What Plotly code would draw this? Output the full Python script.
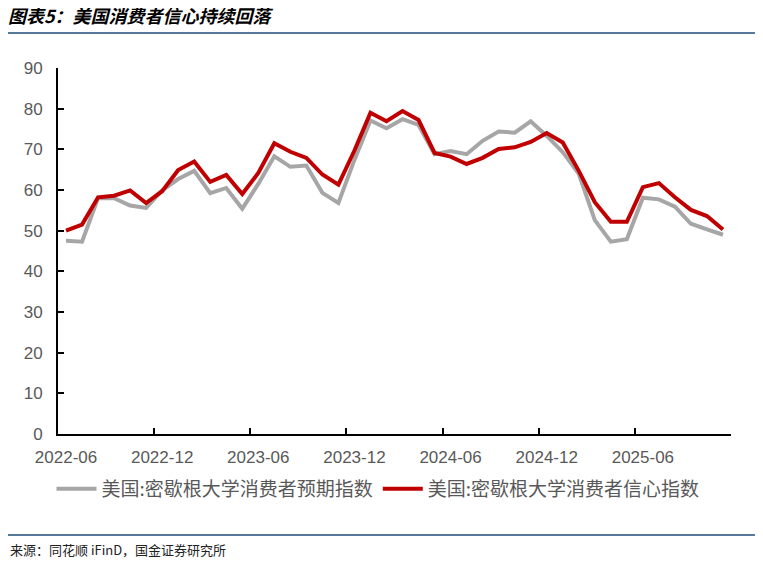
import plotly.graph_objects as go

months = [
    "2022-06", "2022-07", "2022-08", "2022-09", "2022-10", "2022-11", "2022-12",
    "2023-01", "2023-02", "2023-03", "2023-04", "2023-05", "2023-06", "2023-07",
    "2023-08", "2023-09", "2023-10", "2023-11", "2023-12", "2024-01", "2024-02",
    "2024-03", "2024-04", "2024-05", "2024-06", "2024-07", "2024-08", "2024-09",
    "2024-10", "2024-11", "2024-12", "2025-01", "2025-02", "2025-03", "2025-04",
    "2025-05", "2025-06", "2025-07", "2025-08", "2025-09", "2025-10", "2025-11",
]

expectations = [
    47.5, 47.3, 58.0, 58.0, 56.2, 55.6, 59.9, 62.7, 64.7, 59.2, 60.5, 55.4,
    61.5, 68.3, 65.7, 66.0, 59.3, 56.8, 67.4, 77.1, 75.2, 77.4, 76.0, 68.8,
    69.6, 68.8, 72.1, 74.4, 74.1, 76.9, 73.3, 69.3, 64.0, 52.6, 47.3, 47.9,
    58.1, 57.7, 55.9, 51.7, 50.3, 49.0,
]

sentiment = [
    50.0, 51.5, 58.2, 58.6, 59.9, 56.8, 59.7, 64.9, 67.0, 62.0, 63.7, 59.0,
    64.2, 71.5, 69.4, 67.9, 63.8, 61.3, 69.7, 79.0, 76.9, 79.4, 77.2, 69.1,
    68.2, 66.4, 67.9, 70.1, 70.5, 71.8, 74.0, 71.7, 64.7, 57.0, 52.2, 52.2,
    60.7, 61.7, 58.2, 55.1, 53.6, 50.3,
]

x_label_step = 6  # months between labels: 2022-06, 2022-12, ..., 2025-06
y_ticks = [0, 10, 20, 30, 40, 50, 60, 70, 80, 90]

name_exp = "美国:密歇根大学消费者预期指数"
name_sent = "美国:密歇根大学消费者信心指数"
title_text = "图表5：美国消费者信心持续回落"
source_text = "来源：同花顺 iFinD，国金证券研究所"

# page body adds an 8px offset; lay out in figure pixels = screen pixels - 8
OFF = 8
W, H = 763, 565
L, T = 58 - OFF, 68 - OFF
pw, ph = 673, 366
R, B = W - L - pw, H - T - ph

def px_x(p):
    return (p - OFF - L) / pw

def px_y(p):
    return (T + ph - (p - OFF)) / ph

fig = go.Figure()
fig.add_trace(go.Scatter(
    x=months, y=expectations, mode="lines", name=name_exp,
    line=dict(color="#A6A6A6", width=4),
))
fig.add_trace(go.Scatter(
    x=months, y=sentiment, mode="lines", name=name_sent,
    line=dict(color="#C00000", width=4),
))

font_main = "Liberation Sans, Noto Sans CJK SC, sans-serif"

fig.update_layout(
    width=W, height=H,
    margin=dict(l=L, r=R, t=T, b=B, autoexpand=False),
    paper_bgcolor="white", plot_bgcolor="white",
    font=dict(family=font_main, color="#595959", size=16),
    showlegend=True,
    legend=dict(
        orientation="h", x=px_x(378), y=px_y(489), xanchor="center", yanchor="middle",
        font=dict(family="Noto Sans CJK SC, sans-serif", size=19, color="#595959"),
        itemwidth=40, tracegroupgap=0, bgcolor="rgba(0,0,0,0)",
    ),
    title=dict(
        text="<b><i>" + title_text + "</i></b>",
        x=0, xanchor="left", xref="container",
        y=1 - 2 / H, yanchor="top", yref="container",
        pad=dict(l=0, r=0, t=0, b=0),
        font=dict(family="Noto Sans CJK SC, sans-serif", size=18, color="#000000"),
    ),
    xaxis=dict(
        type="category", automargin=False,
        categoryorder="array", categoryarray=months,
        range=[-0.5, len(months) - 0.5],
        tickmode="linear", tick0=0, dtick=x_label_step,
        tickson="boundaries", tickangle=0,
        ticks="inside", ticklen=6, tickwidth=2, tickcolor="#000000",
        showline=True, linecolor="#000000", linewidth=2,
        showgrid=False, zeroline=False,
        tickfont=dict(size=17, color="#595959"),
        ticklabelstandoff=7,
    ),
    yaxis=dict(
        range=[0, 90], automargin=False,
        tickmode="array", tickvals=y_ticks,
        ticks="inside", ticklen=6, tickwidth=2, tickcolor="#000000",
        showline=True, linecolor="#000000", linewidth=2,
        showgrid=False, zeroline=False,
        tickfont=dict(size=17, color="#595959"),
        ticklabelstandoff=10,
    ),
    shapes=[
        dict(type="line", xref="paper", yref="paper",
             x0=px_x(0), x1=px_x(W + OFF), y0=px_y(33), y1=px_y(33),
             line=dict(color="#1F4E79", width=1.5)),
        dict(type="line", xref="paper", yref="paper",
             x0=px_x(0), x1=px_x(W + OFF), y0=px_y(535), y1=px_y(535),
             line=dict(color="#1F4E79", width=1.5)),
    ],
    annotations=[
        dict(text=source_text, xref="paper", yref="paper",
             x=px_x(OFF), y=px_y(549), xanchor="left", yanchor="middle",
             showarrow=False,
             font=dict(family="Noto Sans CJK SC, sans-serif", size=13, color="#222222")),
    ],
)

fig.write_html("out.html")
